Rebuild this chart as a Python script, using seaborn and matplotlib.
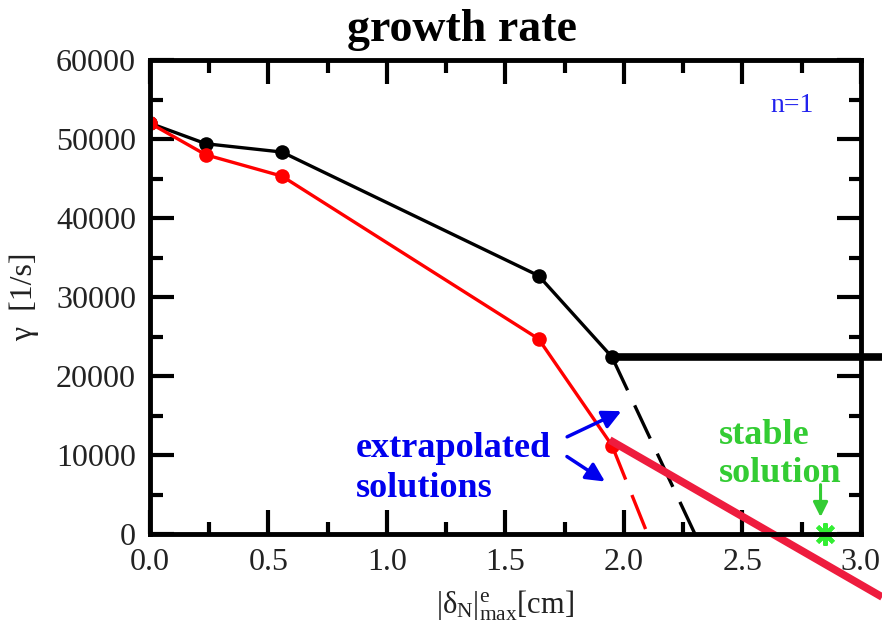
import matplotlib
matplotlib.use("Agg")
import matplotlib.pyplot as plt
import seaborn as sns
import pandas as pd
from matplotlib.ticker import MultipleLocator, FormatStrFormatter

# computed growth rates
x_pts = [0.0, 0.236, 0.557, 1.64, 1.95]
gamma_black = [52000, 49400, 48350, 32700, 22400]
gamma_red = [52000, 48000, 45300, 24700, 11200]

# extrapolated continuations to zero growth
x_ext_black = [1.95, 2.30]
y_ext_black = [22400, 0]
x_ext_red = [1.95, 2.10]
y_ext_red = [11200, 0]

# thick guide lines
x_flat = [1.95, 3.09]
y_flat = [22400, 22400]
x_slope = [1.94, 3.09]
y_slope = [11900, -7975]

# stable solution
x_stable = [2.85]
y_stable = [0]

sns.set_theme(style="white")
plt.rcParams.update({
    "font.family": ["Liberation Serif", "DejaVu Serif"],
    "mathtext.fontset": "custom",
    "mathtext.rm": "Liberation Serif",
    "mathtext.it": "Liberation Serif:italic",
    "mathtext.bf": "Liberation Serif:bold",
    "xtick.bottom": True, "xtick.top": True,
    "ytick.left": True, "ytick.right": True,
    "xtick.direction": "in", "ytick.direction": "in",
    "xtick.minor.visible": True, "ytick.minor.visible": True,
    "xtick.color": "black", "ytick.color": "black",
})

fig = plt.figure(figsize=(8.82, 6.29), dpi=100)
ax = fig.add_axes([0.170, 0.151, 0.806, 0.7536])

df = pd.DataFrame({
    "x": x_pts * 2,
    "gamma": gamma_black + gamma_red,
    "case": ["black"] * len(x_pts) + ["red"] * len(x_pts),
})
sns.lineplot(data=df, x="x", y="gamma", hue="case",
             palette={"black": "black", "red": "#ff0000"},
             marker="o", markersize=10.5, markeredgewidth=0, linewidth=2.4,
             legend=False, ax=ax, sort=False, zorder=3)

sns.lineplot(x=x_ext_black, y=y_ext_black, color="black", linewidth=2.4,
             ax=ax, zorder=2).lines[-1].set_dashes([11, 5])
sns.lineplot(x=x_ext_red, y=y_ext_red, color="#ff0000", linewidth=2.4,
             ax=ax, zorder=2).lines[-1].set_dashes([11, 5])

flat = sns.lineplot(x=x_flat, y=y_flat, color="black", linewidth=5.5, ax=ax, zorder=4).lines[-1]
flat.set_clip_on(False)
flat.set_solid_capstyle("butt")
slope = sns.lineplot(x=x_slope, y=y_slope, color="#ee1c3e", linewidth=5.5, ax=ax, zorder=5).lines[-1]
slope.set_clip_on(False)
slope.set_solid_capstyle("butt")

ax.plot(x_stable, y_stable, marker=(8, 2, 0), color="#33ee33", markersize=16,
        markeredgewidth=3, linestyle="none", clip_on=False, zorder=6)

ax.set_xlim(0, 3.0)
ax.set_ylim(0, 60000)
ax.xaxis.set_major_locator(MultipleLocator(0.5))
ax.xaxis.set_minor_locator(MultipleLocator(0.25))
ax.yaxis.set_major_locator(MultipleLocator(10000))
ax.yaxis.set_minor_locator(MultipleLocator(5000))
ax.xaxis.set_major_formatter(FormatStrFormatter("%.1f"))
ax.tick_params(which="both", direction="in", top=True, right=True,
               bottom=True, left=True, width=3, color="black",
               labelsize=23, labelcolor="#222222")
ax.tick_params(which="major", length=17)
ax.tick_params(which="minor", length=9)
ax.tick_params(axis="x", which="major", pad=10)
ax.tick_params(axis="y", which="major", pad=10)
for s in ax.spines.values():
    s.set_linewidth(3.5)
    s.set_color("black")
    s.set_zorder(7)

ax.set_xlabel(r"$|\mathrm{δ}_{\mathrm{N}}|^{\mathrm{e}}_{\mathrm{max}}$[cm]",
              fontsize=22, labelpad=8, color="#222222")
ax.set_ylabel("γ  [1/s]", fontsize=23, labelpad=12, color="#222222")
fig.text(462 / 882, 1 - 30 / 629, "growth rate", fontsize=33, fontweight="bold",
         color="black", ha="center", va="center")

ax.text(2.62, 54200, "n=1", color="#2222ee", fontsize=20, ha="left", va="center")

ax.text(0.87, 8300, "extrapolated\nsolutions", color="#0000ee", fontsize=26,
        fontweight="bold", ha="left", va="center", linespacing=1.25)
ax.text(2.4, 10100, "stable\nsolution", color="#33cc33", fontsize=26,
        fontweight="bold", ha="left", va="center", linespacing=1.2)

arrow = dict(arrowstyle="-|>", color="#0000ee", lw=2.5, mutation_scale=28)
ax.annotate("", xy=(2.0, 15700), xytext=(1.75, 12150), arrowprops=arrow)
ax.annotate("", xy=(1.93, 6450), xytext=(1.75, 10000), arrowprops=arrow)
ax.annotate("", xy=(2.83, 1800), xytext=(2.83, 6600),
            arrowprops=dict(arrowstyle="-|>", color="#33cc33", lw=2.2, mutation_scale=22))

fig.savefig("out.png", dpi=100)
